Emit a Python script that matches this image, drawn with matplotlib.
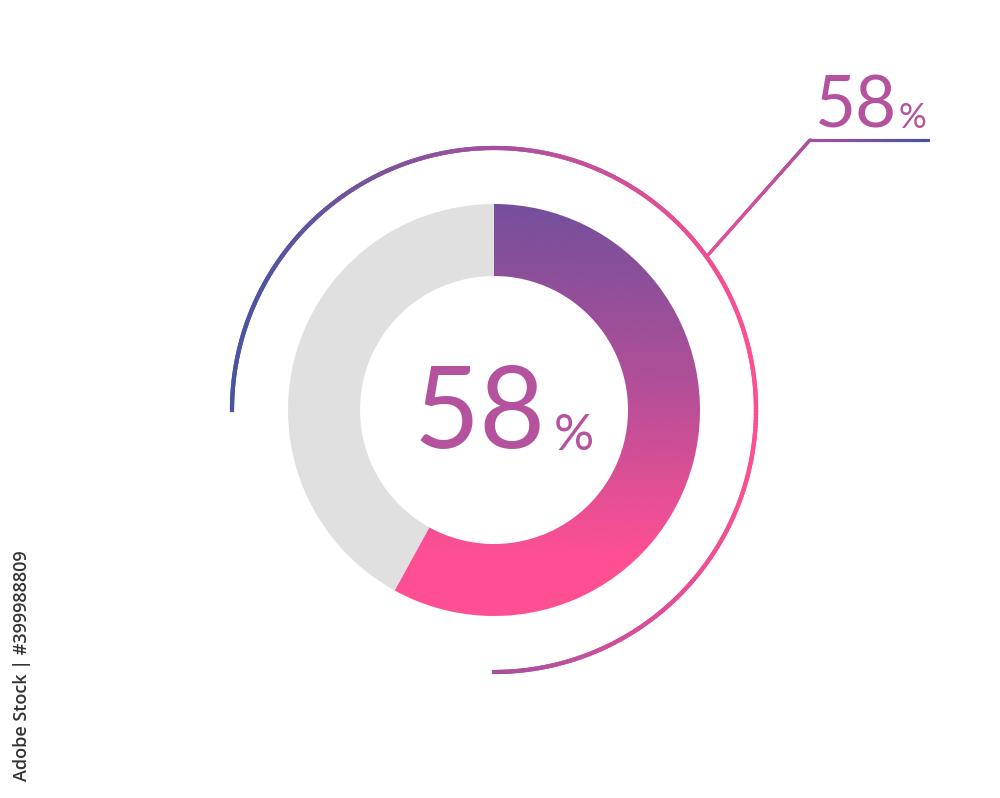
import numpy as np
import matplotlib.pyplot as plt
from matplotlib.patches import Wedge
from matplotlib.collections import LineCollection
from matplotlib.colors import LinearSegmentedColormap

# data
value = 58
label = "58"
watermark = "Adobe Stock | #399988809"

# layout in pixel coords
W, H = 1000, 798
cx, cy = 494, 410
r_out, r_in = 206, 134
r_arc = 262

fig = plt.figure(figsize=(W / 100, H / 100), dpi=100)
ax = fig.add_axes([0, 0, 1, 1])
ax.set_xlim(0, W)
ax.set_ylim(H, 0)
ax.set_aspect('equal')
ax.axis('off')

# y axis is flipped, so data angles run clockwise on screen
a0 = 270
a1 = 270 + value / 100 * 360

# grey remainder
ax.add_patch(Wedge((cx, cy), r_out, a1 - 360, a0, width=r_out - r_in,
                   facecolor='#e0e0e0', edgecolor='none'))

# gradient filled part (vertical gradient purple -> pink)
grad_cmap = LinearSegmentedColormap.from_list(
    'g', [(0, '#744f9c'), (0.45, '#b44f98'), (0.85, '#ff4f93'), (1, '#ff4f93')])
wedge = Wedge((cx, cy), r_out, a0, a1, width=r_out - r_in,
              facecolor='none', edgecolor='none')
ax.add_patch(wedge)
grad = np.linspace(0, 1, 256).reshape(-1, 1)
im = ax.imshow(grad, cmap=grad_cmap, extent=[cx - r_out, cx + r_out, cy + r_out, cy - r_out],
               aspect='auto', zorder=2, interpolation='bicubic')
im.set_clip_path(wedge)

# outer thin arc, colour along x
arc_cmap = LinearSegmentedColormap.from_list('a', ['#4854a0', '#a4509d', '#ff4f93'])
th = np.linspace(np.pi, -np.pi / 2, 400)
arc_x = cx + r_arc * np.cos(th)
arc_y = cy - r_arc * np.sin(th)
pts = np.column_stack([arc_x, arc_y]).reshape(-1, 1, 2)
segs = np.concatenate([pts[:-1], pts[1:]], axis=1)
xm = (arc_x[:-1] + arc_x[1:]) / 2
lc = LineCollection(segs, colors=arc_cmap((xm - (cx - r_arc)) / (2 * r_arc)),
                    linewidths=3.0, capstyle='projecting')
ax.add_collection(lc)

# leader line
lx = np.array([708, 810, 928])
ly = np.array([255, 140, 140])
lead_cmap = LinearSegmentedColormap.from_list('l', ['#e6509a', '#b4509e', '#4854a0'])
t = np.linspace(0, 1, 200)
seg_len = np.hypot(np.diff(lx), np.diff(ly))
cum = np.concatenate([[0], np.cumsum(seg_len)]) / seg_len.sum()
px = np.interp(t, cum, lx)
py = np.interp(t, cum, ly)
pts = np.column_stack([px, py]).reshape(-1, 1, 2)
segs = np.concatenate([pts[:-1], pts[1:]], axis=1)
ax.add_collection(LineCollection(segs, colors=lead_cmap((t[:-1] + t[1:]) / 2),
                                 linewidths=2.2, capstyle='projecting'))

# texts
txt_col = '#b4529e'
ax.text(546, 448, label, fontsize=82, family='Lato', color=txt_col,
        ha='right', va='baseline')
ax.text(554, 450, '%', fontsize=36, family='Lato', color=txt_col,
        ha='left', va='baseline')
ax.text(896, 128, label, fontsize=51, family='Lato', color=txt_col,
        ha='right', va='baseline')
ax.text(898, 128, '%', fontsize=25, family='Lato', color=txt_col,
        ha='left', va='baseline')

ax.text(22, 781, watermark, rotation=90, fontsize=13, family='Open Sans',
        weight='semibold', color='#333333', ha='center', va='bottom')

fig.savefig('out.png', dpi=100, facecolor='white')
